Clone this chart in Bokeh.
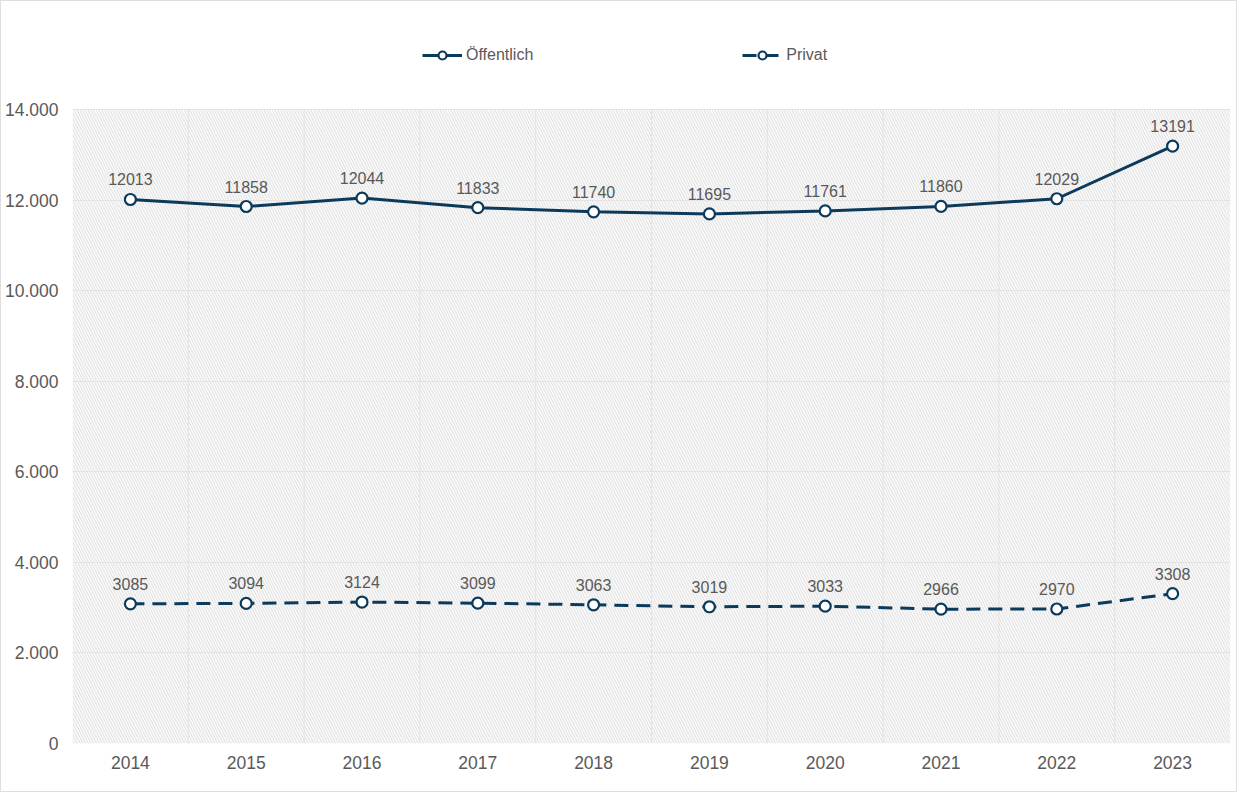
from bokeh.plotting import figure
from bokeh.models import (ColumnDataSource, Legend, LegendItem, FixedTicker,
                          CustomJSTickFormatter, BoxAnnotation, LabelSet, Range1d)
from bokeh.core.properties import value
from bokeh.embed import file_html
from bokeh.resources import INLINE

years = [2014, 2015, 2016, 2017, 2018, 2019, 2020, 2021, 2022, 2023]
oeffentlich = [12013, 11858, 12044, 11833, 11740, 11695, 11761, 11860, 12029, 13191]
privat = [3085, 3094, 3124, 3099, 3063, 3019, 3033, 2966, 2970, 3308]
y_ticks = [0, 2000, 4000, 6000, 8000, 10000, 12000, 14000]
series_names = ["Öffentlich", "Privat"]

NAVY = "#0c3a5b"
GRAY_TEXT = "#595959"
GRID = "#e3e3e3"
FONT = "Liberation Sans"

# layout (pixels)
FRAME_H = 634      # height of the value area (0 .. 14.000)
HEAD = 108         # white space above the value area holding the legend

src_o = ColumnDataSource(dict(x=years, y=oeffentlich, t=[str(v) for v in oeffentlich]))
src_p = ColumnDataSource(dict(x=years, y=privat, t=[str(v) for v in privat]))

y_top = y_ticks[-1] * (1 + HEAD / FRAME_H)

p = figure(width=1237, height=792, output_backend="svg", toolbar_location=None,
           x_range=Range1d(years[0] - 0.5, years[-1] + 0.5),
           y_range=Range1d(y_ticks[0], y_top),
           min_border_left=68, min_border_right=8, min_border_top=0, min_border_bottom=50)
p.styles = {"border": "1px solid #dedede"}
p.outline_line_color = None
p.background_fill_color = "white"

# hatched value area
p.add_layout(BoxAnnotation(left=None, right=None, top=y_ticks[-1], bottom=y_ticks[0],
                           fill_color="white", fill_alpha=1.0, line_color=None,
                           hatch_pattern="\\", hatch_color="#dadada", hatch_scale=5.5,
                           hatch_weight=1, level="image"))

# axes
p.xaxis.ticker = FixedTicker(ticks=years)
p.yaxis.ticker = FixedTicker(ticks=y_ticks)
p.yaxis.formatter = CustomJSTickFormatter(
    code="return tick.toFixed(0).replace(/\\B(?=(\\d{3})+(?!\\d))/g, '.');")
for ax in (p.xaxis[0], p.yaxis[0]):
    ax.axis_line_color = None
    ax.major_tick_line_color = None
    ax.minor_tick_line_color = None
    ax.major_tick_out = 0
    ax.major_tick_in = 0
    ax.minor_tick_out = 0
    ax.minor_tick_in = 0
    ax.major_label_text_color = GRAY_TEXT
    ax.major_label_text_font = FONT
    ax.major_label_text_font_size = "17.5px"
p.xaxis.major_label_standoff = 12
p.yaxis.major_label_standoff = 14

p.xgrid.visible = False
p.ygrid.grid_line_color = GRID
p.ygrid.level = "underlay"

# vertical category separators, limited to the value area
sep = [y + 0.5 for y in years[:-1]]
p.segment(x0=sep, y0=[y_ticks[0]] * len(sep), x1=sep, y1=[y_ticks[-1]] * len(sep),
          line_color=GRID, line_width=1, level="underlay")

# series
l_o = p.line("x", "y", source=src_o, line_color=NAVY, line_width=3)
c_o = p.scatter("x", "y", source=src_o, size=11, fill_color="white",
                line_color=NAVY, line_width=2.2)
l_p = p.line("x", "y", source=src_p, line_color=NAVY, line_width=3, line_dash="14 8")
c_p = p.scatter("x", "y", source=src_p, size=11, fill_color="white",
                line_color=NAVY, line_width=2.2)

for s in (src_o, src_p):
    p.add_layout(LabelSet(x="x", y="y", text="t", source=s, y_offset=14,
                          text_align="center", text_baseline="bottom",
                          text_color=GRAY_TEXT, text_font=value(FONT),
                          text_font_size="16px"))

legend = Legend(items=[LegendItem(label=series_names[0], renderers=[l_o, c_o]),
                       LegendItem(label=series_names[1], renderers=[l_p, c_p])],
                orientation="horizontal", location=(350, 678),
                spacing=209, glyph_width=40, label_standoff=4,
                label_text_color=GRAY_TEXT, label_text_font=FONT,
                label_text_font_size="16px", border_line_color=None,
                background_fill_alpha=0.0, padding=4, margin=0)
p.add_layout(legend, "center")

open("out.html", "w").write(file_html(p, INLINE))
